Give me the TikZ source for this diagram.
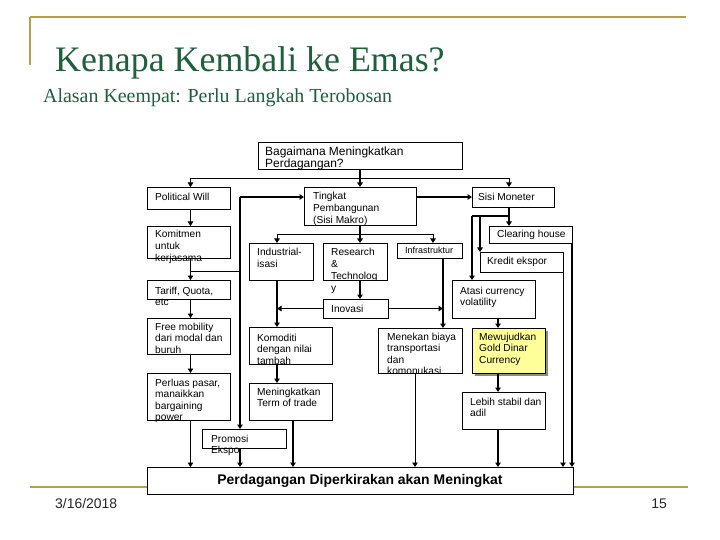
\documentclass[tikz,border=0pt]{standalone}
\usepackage{fontspec}
\setmainfont{Liberation Serif}
\newfontfamily\arialf{Liberation Sans}
\usetikzlibrary{arrows.meta,fit,shadows}
\definecolor{goldline}{RGB}{181,160,70}
\definecolor{titlegreen}{RGB}{30,95,60}
\definecolor{noteyellow}{RGB}{255,255,153}
\newcommand{\ml}[1]{\parbox[t]{220bp}{\raggedright #1}}
\begin{document}
\begin{tikzpicture}[x=1bp,y=-1bp,
  box/.style={draw=black,line width=0.8bp,fill=white,inner sep=0pt,outer sep=0pt},
  txt/.style={font=\arialf\fontsize{10.2}{11.7}\selectfont,inner sep=0pt,anchor=base west,text=black},
  thn/.style={line width=0.9bp},
  thk/.style={line width=1.8bp},
  arr/.style={-{Triangle[length=4.5bp,width=5.5bp]}},
  gl/.style={goldline,line width=2.5bp}
]
\fill[white] (0,0) rectangle (720,540);
\useasboundingbox (0,0) rectangle (720,540);

% frame lines
\draw[gl] (30,17) -- (686,17);
\draw[gl] (30,17) -- (30,65);
\draw[gl] (30,487) -- (688,487);

% titles
\node[font=\fontsize{36}{40}\selectfont,text=titlegreen,anchor=base west,inner sep=0pt] (title) at (55,72) {Kenapa Kembali ke Emas?};
\node[font=\fontsize{20}{24}\selectfont,text=titlegreen,anchor=base west,inner sep=0pt] (subtitle) at (43,103) {Alasan Keempat: Perlu Langkah Terobosan};

% footer
\node[font=\arialf\fontsize{14}{16}\selectfont,text=black!85,anchor=base west,inner sep=0pt] (date) at (55,508) {3/16/2018};
\node[font=\arialf\fontsize{14}{16}\selectfont,text=black!85,anchor=base east,inner sep=0pt] (pnum) at (667,508) {15};

% boxes
\node[box,fit={(258,142) (462,169)}] (bag) {};
\node[box,fit={(147,187) (230,209)}] (pw) {};
\node[box,fit={(147,226) (230,258)}] (kom) {};
\node[box,fit={(147,280) (230,299)}] (tar) {};
\node[box,fit={(147,318) (230,354)}] (free) {};
\node[box,fit={(147,373) (230,420)}] (perl) {};
\node[box,fit={(202,429) (286,448)}] (promo) {};
\node[box,fit={(147,467) (573,494)}] (bottom) {};
\node[box,fit={(304,187) (416,225)}] (tingkat) {};
\node[box,fit={(472,187) (554,207)}] (sisi) {};
\node[box,fit={(489,226) (572,243)}] (clear) {};
\node[box,fit={(480,252) (563,272)}] (kred) {};
\node[box,fit={(452,280) (535,318)}] (atasi) {};
\node[box,fill=noteyellow,drop shadow={shadow xshift=2.5bp,shadow yshift=-2.5bp,fill=black!45,opacity=1},fit={(472,328) (545,373)}] (mew) {};
\node[box,fit={(462,392) (545,429)}] (lebih) {};
\node[box,fit={(249,243) (313,280)}] (ind) {};
\node[box,fit={(323,243) (387,280)}] (res) {};
\node[box,fit={(397,243) (462,258)}] (infra) {};
\node[box,fit={(323,299) (388,318)}] (inov) {};
\node[box,fit={(249,327) (332,364)}] (kmd) {};
\node[box,fit={(249,383) (332,420)}] (mtt) {};
\node[box,fit={(378,328) (462,373)}] (men) {};

% texts
\node[txt,font=\arialf\fontsize{12}{12}\selectfont] (bag-t) at (265,156) {\ml{Bagaimana Meningkatkan\\Perdagangan?}};
\node[txt] (pw-t) at (155,201) {\ml{Political Will}};
\node[txt] (kom-t) at (155,238) {\ml{Komitmen\\untuk\\kerjasama}};
\node[txt] (tar-t) at (155,294) {\ml{Tariff, Quota,\\etc}};
\node[txt] (free-t) at (155,330) {\ml{Free mobility\\dari modal dan\\buruh}};
\node[txt] (perl-t) at (155,386) {\ml{Perluas pasar,\\manaikkan\\bargaining\\power}};
\node[txt] (promo-t) at (211,442) {\ml{Promosi\\Ekspo}};
\node[font=\arialf\bfseries\fontsize{14}{16}\selectfont,inner sep=0pt] (bottom-t) at (bottom.center) {Perdagangan Diperkirakan akan Meningkat};
\node[txt] (tingkat-t) at (313,200) {\ml{Tingkat\\Pembangunan\\(Sisi Makro)}};
\node[txt] (sisi-t) at (478,201) {\ml{Sisi Moneter}};
\node[txt] (clear-t) at (497,238) {\ml{Clearing house}};
\node[txt] (kred-t) at (487,265) {\ml{Kredit ekspor}};
\node[txt] (atasi-t) at (460,294) {\ml{Atasi currency\\volatility}};
\node[txt] (mew-t) at (479,340) {\ml{Mewujudkan\\Gold Dinar\\Currency}};
\node[txt] (lebih-t) at (470,405) {\ml{Lebih stabil dan\\adil}};
\node[txt] (ind-t) at (257,256) {\ml{Industrial-\\isasi}};
\node[txt,font=\arialf\fontsize{10.2}{12}\selectfont] (res-t) at (331,256) {\ml{Research\\\&\\Technolog\\y}};
\node[txt,font=\arialf\fontsize{9}{11}\selectfont] (infra-t) at (405,254) {\ml{Infrastruktur}};
\node[txt] (inov-t) at (331,312) {\ml{Inovasi}};
\node[txt] (kmd-t) at (257,341) {\ml{Komoditi\\dengan nilai\\tambah}};
\node[txt] (mtt-t) at (257,395) {\ml{Meningkatkan\\Term of trade}};
\node[txt] (men-t) at (387,340) {\ml{Menekan biaya\\transportasi\\dan\\komonukasi}};

% column coordinates
\coordinate (j1) at (360,178);
\coordinate (xl) at (190.5,0);
\coordinate (j4) at (240,271);
\coordinate (v1) at (240,197);
\coordinate (j6) at (360,234);
\coordinate (xk) at (277,0);
\coordinate (xf) at (433,0);
\coordinate (xi) at (443,0);
\coordinate (xm) at (293,0);
\coordinate (xn) at (415,0);
\coordinate (xs) at (509,0);
\coordinate (j2) at (472,216);
\coordinate (j3) at (480,216);
\coordinate (xa) at (498,0);

% top distribution
\draw[thk,arr] (bag.south) -- (tingkat.north);
\draw[thn,arr] (j1) -| (xl |- pw.north);
\draw[thn,arr] (j1) -| (xs |- sisi.north);

% left column
\draw[thn,arr] (xl |- pw.south) -- (xl |- kom.north);
\draw[thn,arr] (xl |- kom.south) -- (xl |- tar.north);
\draw[thn] (xl |- j4) -- (j4);
\draw[thn,arr] (xl |- tar.south) -- (xl |- free.north);
\draw[thn,arr] (xl |- free.south) -- (xl |- perl.north);
\draw[thn,arr] (xl |- perl.south) -- (xl |- bottom.north);

% thick vertical to Tingkat and Promosi
\draw[thk,arr] (v1) -- (v1 -| tingkat.west);
\draw[thk,arr] (v1) -- (v1 |- promo.north);
\draw[thk,arr] (v1 |- promo.south) -- (v1 |- bottom.north);

% Tingkat -> Sisi Moneter
\draw[thk,arr] (tingkat.east |- sisi.west) -- (sisi.west);

% Tingkat down
\draw[thk,arr] (tingkat.south) -- (tingkat.south |- res.north);
\draw[thn,arr] (j6) -| (xk |- ind.north);
\draw[thn,arr] (j6) -| (xf |- infra.north);
\draw[thk,arr] (xk |- ind.south) -- (xk |- kmd.north);
\draw[thk,arr] (xk |- kmd.south) -- (xk |- mtt.north);
\draw[thk,arr] (tingkat.south |- res.south) -- (tingkat.south |- inov.north);
\draw[thn,arr] (inov.west) -- (xk |- inov.west);
\draw[thk,arr] (inov.east) -- (xi |- inov.east);
\draw[thk,arr] (xi |- infra.south) -- (xi |- men.north);
\draw[thk,arr] (xm |- mtt.south) -- (xm |- bottom.north);
\draw[thn,arr] (xn |- men.south) -- (xn |- bottom.north);

% right side
\draw[thk,arr] (xs |- sisi.south) -- (xs |- clear.north);
\draw[thk] (xs |- j2) -- (j2);
\draw[thk,arr] (j2) -- (j2 |- atasi.north);
\draw[thk,arr] (j3) -- (j3 |- kred.north);
\draw[thk,arr] (xa |- atasi.south) -- (xa |- mew.north);
\draw[thk,arr] (xa |- mew.south) -- (xa |- lebih.north);
\draw[thk,arr] (xa |- lebih.south) -- (xa |- bottom.north);
\draw[thn,arr] (kred.south east) -- (kred.south east |- bottom.north);
\draw[thk,arr] (clear.south east) -- (clear.south east |- bottom.north);
\end{tikzpicture}
\end{document}
